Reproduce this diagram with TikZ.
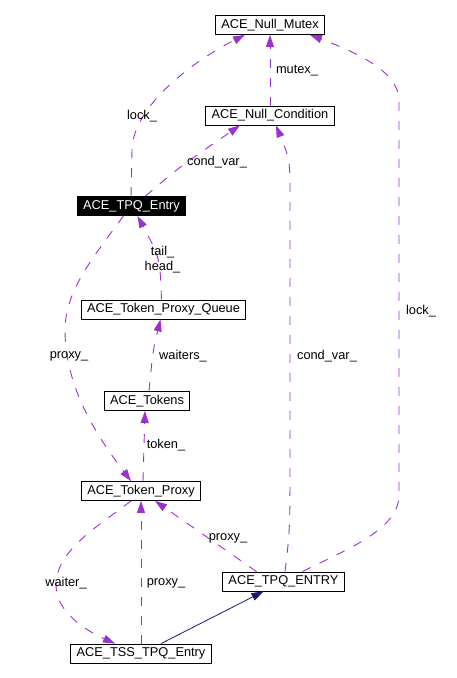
\documentclass[tikz,border=0pt]{standalone}
\usepackage{fontspec}
\setmainfont{Liberation Sans}
\usepackage{tikz}
\usetikzlibrary{arrows.meta}
\definecolor{dep}{HTML}{9A32CD}
\definecolor{inh}{HTML}{191970}

\begin{document}
\begin{tikzpicture}[x=1pt,y=-1pt,
  cls/.style={draw,line width=0.8pt,inner xsep=5.8pt,inner ysep=0pt,minimum height=19pt,font=\fontsize{12.8}{15}\selectfont},
  lbl/.style={inner sep=0pt,font=\fontsize{12.8}{15}\selectfont,align=center},
  use/.style={dep,line width=0.9pt,dash pattern=on 9pt off 10pt,-{Triangle[length=12pt,width=8pt]}},
  isa/.style={inh,line width=0.8pt,-{Triangle[length=12pt,width=8pt]}}]
      \useasboundingbox (0,0) rectangle (456,678);
      \node[cls](mutex) at (270,25){ACE\_Null\_Mutex};
      \node[cls](cond) at (270,115.5){ACE\_Null\_Condition};
      \node[cls,fill=black,text=white](entry) at (131.5,206){ACE\_TPQ\_Entry};
      \node[cls](queue) at (163.5,309.5){ACE\_Token\_Proxy\_Queue};
      \node[cls](tokens) at (147,401){ACE\_Tokens};
      \node[cls](proxy) at (141,491){ACE\_Token\_Proxy};
      \node[cls](ENTRY) at (283.5,581.5){ACE\_TPQ\_ENTRY};
      \node[cls](tss) at (141,653.5){ACE\_TSS\_TPQ\_Entry};

      \draw[use] ([xshift=-0.5pt]entry.north) -- (132,150) .. controls (133,105) and (195,60) .. ([xshift=-25pt]mutex.south);
      \node[lbl](lock1) at (142,116){lock\_};
      \draw[use] ([xshift=14pt]entry.north) .. controls (178,168) .. ([xshift=-30pt]cond.south);
      \node[lbl](condvar1) at (217,162){cond\_var\_};
      \draw[use] (cond.north) -- (mutex.south);
      \node[lbl](mtx) at (297,71){mutex\_};
      \draw[use] ([xshift=-2pt]queue.north) .. controls (160,258) .. ([xshift=6pt]entry.south);
      \node[lbl](tailhead) at (162.5,259.5){tail\_\\head\_};
      \draw[use] ([xshift=2pt]tokens.north) .. controls (153,350) .. ([xshift=-3pt]queue.south);
      \node[lbl](wtrs) at (183,356){waiters\_};
      \draw[use] ([xshift=2pt]proxy.north) -- ([xshift=-2pt]tokens.south);
      \node[lbl](tkn) at (166,445){token\_};
      \draw[use] ([xshift=-8pt]entry.south) .. controls (95,255) and (65,290) .. (65,330) .. controls (65,390) and (100,440) .. ([xshift=-10pt]proxy.north);
      \node[lbl](proxy1) at (69,356){proxy\_};
      \draw[use] (tss.north) -- (proxy.south);
      \node[lbl](proxy2) at (166,583){proxy\_};
      \draw[use] ([xshift=-10pt]proxy.south) .. controls (100,525) and (56,550) .. (56,585) .. controls (56,612) and (85,630) .. ([xshift=-26pt]tss.north);
      \node[lbl](wtr) at (66,583){waiter\_};
      \draw[use] ([xshift=-27pt]ENTRY.north) -- ([xshift=14pt]proxy.south);
      \node[lbl](proxy3) at (228,538){proxy\_};
      \draw[use] ([xshift=1.5pt]ENTRY.north) .. controls (290,530) .. (290,450) -- (290,200) .. controls (290,160) .. ([xshift=6pt]cond.south);
      \node[lbl](condvar2) at (327,356){cond\_var\_};
      \draw[use] ([xshift=19pt]ENTRY.north) .. controls (345,550) and (399,530) .. (399,495) -- (399,100) .. controls (399,70) and (350,50) .. ([xshift=40pt]mutex.south);
      \node[lbl](lock2) at (421,311){lock\_};
      \draw[isa] ([xshift=20pt]tss.north) -- ([xshift=-20pt]ENTRY.south);
\end{tikzpicture}
\end{document}
